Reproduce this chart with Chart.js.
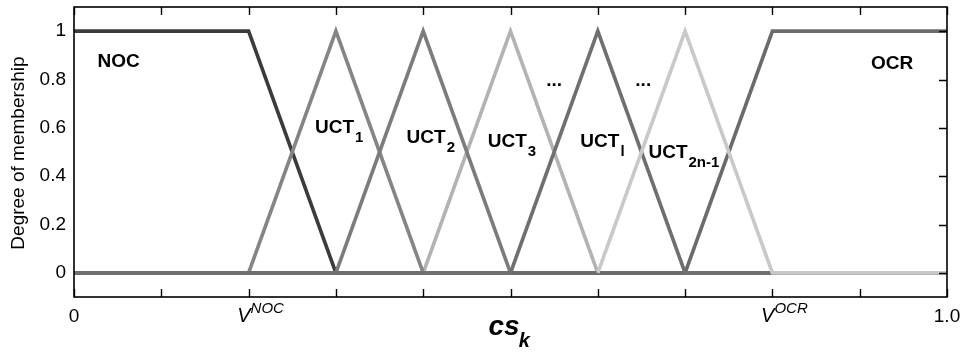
<!DOCTYPE html>
<html>
<head>
<meta charset="utf-8">
<script src="https://cdn.jsdelivr.net/npm/chart.js@4.4.1/dist/chart.umd.min.js"></script>
<style>
  html, body { margin: 0; padding: 0; background: #fff; }
  #wrap { width: 961px; height: 352px; }
</style>
</head>
<body>
<div id="wrap"><canvas id="c" width="961" height="352"></canvas></div>
<script>
// Breakpoints of the membership functions along cs_k
const xBreaks = [0, 0.2, 0.3, 0.4, 0.5, 0.6, 0.7, 0.8, 1.0];

// Membership degree of each fuzzy set at the breakpoints (null = not drawn)
const nocValues     = [1, 1, 0, 0, 0, 0, 0, 0, 0];
const uct1Values    = [0, 0, 1, 0, 0, 0, 0, 0, 0];
const uct2Values    = [0, 0, 0, 1, 0, 0, 0, 0, 0];
const uct3Values    = [0, 0, 0, 0, 1, 0, 0, 0, 0];
const uctlValues    = [0, 0, 0, 0, 0, 1, 0, 0, 0];
const uct2n1Values  = [null, null, null, null, null, 0, 1, 0, 0];
const ocrValues     = [0, 0, 0, 0, 0, 0, 0, 1, 1];

// Axis ticks
const xTickValues = [0, 0.1, 0.2, 0.3, 0.4, 0.5, 0.6, 0.7, 0.8, 0.9, 1.0];
const xLabelValues = [0, 0.2, 0.8, 1.0];
const xLabelMain   = ['0', 'V', 'V', '1.0'];
const xLabelSup    = ['', 'NOC', 'OCR', ''];
const yTickValues = [0, 0.2, 0.4, 0.6, 0.8, 1];
const yTickLabels = ['0', '0.2', '0.4', '0.6', '0.8', '1'];

// Set names written inside the plot
const setNames = ['NOC', 'OCR', 'UCT', 'UCT', 'UCT', 'UCT', 'UCT', '...', '...'];
const setSubs  = ['', '', '1', '2', '3', 'l', '2n-1', '', ''];

// Where each set name sits (data coordinates of the text's left end and baseline)
const namePos = [
  [0.027, 0.85], [0.913, 0.845],
  [0.276, 0.58], [0.381, 0.537], [0.474, 0.52], [0.580, 0.52], [0.658, 0.475],
  [0.541, 0.772], [0.643, 0.772]
];

const FONT = '"Liberation Sans", Arial, Helvetica, sans-serif';

function pts(ys) {
  return xBreaks.map((x, i) => ({ x: x, y: ys[i] }));
}

function series(label, ys, color) {
  return {
    label: label,
    data: pts(ys),
    borderColor: color,
    backgroundColor: color,
    borderWidth: 3.6,
    pointRadius: 0,
    fill: false,
    tension: 0,
    spanGaps: false,
    borderJoinStyle: 'miter',
    borderCapStyle: 'butt'
  };
}

// Frame, inward tick marks, x labels, axis titles and set names
const decorations = {
  id: 'decorations',
  afterDatasetsDraw(chart) {
    const ctx = chart.ctx;
    const a = chart.chartArea;
    const xs = chart.scales.x, ys = chart.scales.y;
    ctx.save();
    ctx.strokeStyle = '#000';
    ctx.lineWidth = 1.6;
    ctx.strokeRect(a.left, a.top, a.right - a.left, a.bottom - a.top);

    const tl = 8;
    ctx.beginPath();
    xTickValues.forEach(v => {
      const px = Math.round(xs.getPixelForValue(v)) + 0.5;
      ctx.moveTo(px, a.bottom); ctx.lineTo(px, a.bottom - tl);
      ctx.moveTo(px, a.top); ctx.lineTo(px, a.top + tl);
    });
    yTickValues.forEach(v => {
      const py = Math.round(ys.getPixelForValue(v)) + 0.5;
      ctx.moveTo(a.right, py); ctx.lineTo(a.right - tl, py);
    });
    ctx.lineWidth = 1.4;
    ctx.stroke();

    // x tick labels
    ctx.fillStyle = '#000';
    ctx.textBaseline = 'alphabetic';
    const base = a.bottom + 25;
    xLabelValues.forEach((v, i) => {
      const px = xs.getPixelForValue(v);
      if (xLabelSup[i]) {
        ctx.font = 'italic 20px ' + FONT;
        ctx.textAlign = 'right';
        ctx.fillText(xLabelMain[i], px + 2, base);
        ctx.font = 'italic 15px ' + FONT;
        ctx.textAlign = 'left';
        ctx.fillText(xLabelSup[i], px + 2, base - 9);
      } else {
        ctx.font = '19px ' + FONT;
        ctx.textAlign = 'center';
        ctx.fillText(xLabelMain[i], px, base);
      }
    });

    // x axis title
    ctx.textAlign = 'left';
    ctx.font = 'bold italic 28px ' + FONT;
    const cx = (a.left + a.right) / 2 - 22;
    ctx.fillText('cs', cx, a.bottom + 38);
    const w = ctx.measureText('cs').width;
    ctx.font = 'bold italic 20px ' + FONT;
    ctx.fillText('k', cx + w - 1, a.bottom + 50);

    // y axis title
    ctx.save();
    ctx.translate(24, (a.top + a.bottom) / 2 + 1);
    ctx.rotate(-Math.PI / 2);
    ctx.textAlign = 'center';
    ctx.font = '19px ' + FONT;
    ctx.fillText('Degree of membership', 0, 0);
    ctx.restore();

    // set names
    setNames.forEach((t, i) => {
      const px = xs.getPixelForValue(namePos[i][0]);
      const py = ys.getPixelForValue(namePos[i][1]);
      ctx.textAlign = 'left';
      ctx.font = (i < 2 ? 'bold 19px ' : 'bold 19px ') + FONT;
      ctx.fillText(t, px, py);
      if (setSubs[i]) {
        const tw = ctx.measureText(t).width;
        ctx.font = 'bold 15px ' + FONT;
        ctx.fillText(setSubs[i], px + tw + 1, py + 9);
      }
    });
    ctx.restore();
  }
};

new Chart(document.getElementById('c'), {
  type: 'line',
  data: {
    datasets: [
      series('UCT2n-1', uct2n1Values, '#c9c9c9'),
      series('UCTl', uctlValues, '#6f6f6f'),
      series('OCR', ocrValues, '#6b6b6b'),
      series('UCT2', uct2Values, '#7c7c7c'),
      series('UCT1', uct1Values, '#858585'),
      series('NOC', nocValues, '#3b3b3b'),
      series('UCT3', uct3Values, '#b3b3b3')
    ]
  },
  options: {
    responsive: false,
    animation: false,
    events: [],
    layout: { padding: { top: 7, right: 14, left: 0, bottom: 0 } },
    plugins: { legend: { display: false }, tooltip: { enabled: false } },
    scales: {
      x: {
        type: 'linear', min: 0, max: 1,
        afterBuildTicks: s => { s.ticks = xTickValues.map(v => ({ value: v })); },
        afterFit: s => { s.height = 55; s.paddingLeft = 0; s.paddingRight = 0; },
        ticks: { display: false },
        grid: { display: false, drawTicks: false },
        border: { display: false }
      },
      y: {
        type: 'linear', min: -0.1, max: 1.1,
        afterBuildTicks: s => { s.ticks = yTickValues.map(v => ({ value: v })); },
        afterFit: s => { s.width = 74; s.paddingTop = 0; s.paddingBottom = 0; },
        ticks: {
          color: '#000',
          padding: 8,
          font: { family: FONT, size: 19 },
          callback: (v, i) => yTickLabels[i]
        },
        grid: { display: false, drawTicks: false },
        border: { display: false }
      }
    }
  },
  plugins: [decorations]
});
</script>
</body>
</html>
